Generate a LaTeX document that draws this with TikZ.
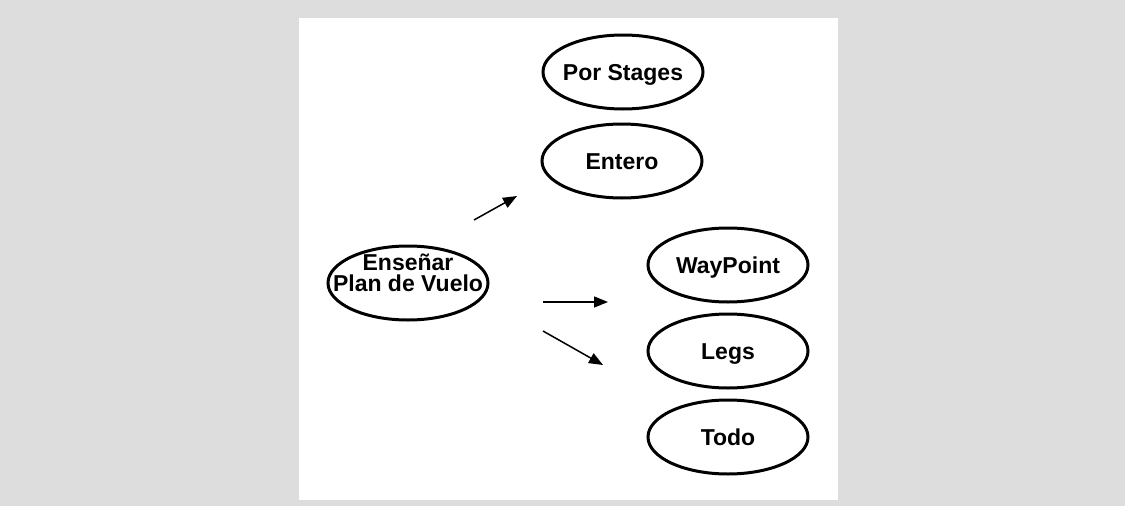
\documentclass[tikz,border=0pt]{standalone}
\usepackage{fontspec}
\setmainfont{Liberation Sans}
\usetikzlibrary{shapes.geometric,arrows.meta}
\definecolor{pagegray}{RGB}{221,221,221}
\tikzset{
  ovalbase/.style={ellipse, draw=black, line width=3pt, fill=white,
    minimum width=160pt, minimum height=74pt,
    inner xsep=-30pt, inner ysep=0pt,
    font=\bfseries\fontsize{23}{21}\selectfont, align=center},
  oval/.style={ovalbase, text height=16.5pt, text depth=0pt},
  flow/.style={line width=1.5pt, -{Triangle[length=14pt,width=11pt]}}
}
\begin{document}
\begin{tikzpicture}[x=1pt,y=-1pt]
  \useasboundingbox (0,0) rectangle (1125,506);
  \fill[pagegray] (0,0) rectangle (1125,506);
  \fill[white] (299,18) rectangle (838,500);

  % option ovals
  \node[oval] (stages)   at (623,72)  {Por Stages};
  \node[oval] (entero)   at (622,161) {Entero};
  \node[ovalbase, inner ysep=-10pt, text depth=20pt] (ensenar) at (408,283) {Enseñar\\Plan de Vuelo};
  \node[oval] (waypoint) at (728,265) {WayPoint};
  \node[oval] (legs)     at (728,351) {Legs};
  \node[oval] (todo)     at (728,437) {Todo};

  % free-standing arrows
  \coordinate (up0) at (474,220);   \coordinate (up1) at (517,196);
  \coordinate (mid0) at (543,302);  \coordinate (mid1) at (608,302);
  \coordinate (dn0) at (543,331);   \coordinate (dn1) at (603,365);
  \draw[flow] (up0) -- (up1);
  \draw[flow] (mid0) -- (mid1);
  \draw[flow] (dn0) -- (dn1);
\end{tikzpicture}
\end{document}
